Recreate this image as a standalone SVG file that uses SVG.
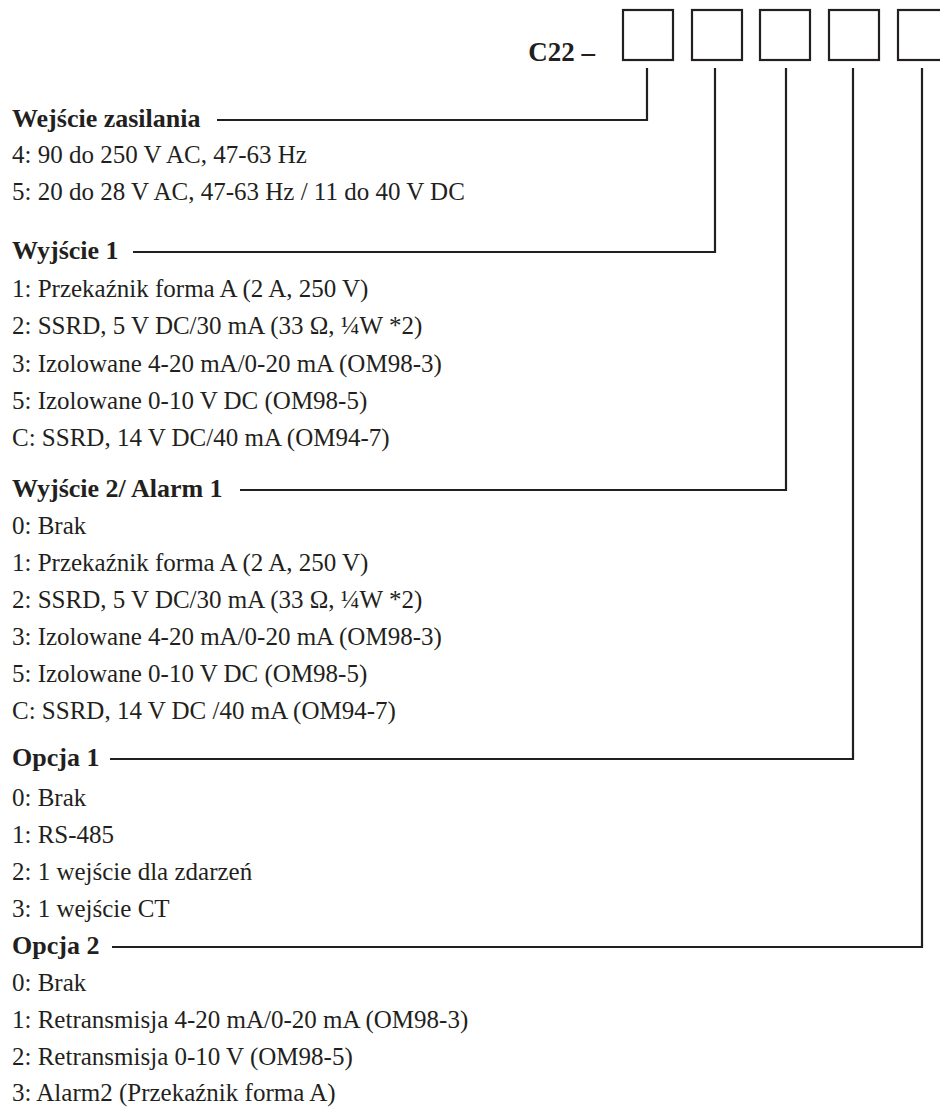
<svg xmlns="http://www.w3.org/2000/svg" width="940" height="1115" viewBox="0 0 940 1115">
<style>
text{font-family:"Liberation Serif","Times New Roman",serif;fill:#231f20}
.h{font-weight:bold;font-size:26px}
.c{font-weight:bold;font-size:27px}
.i{font-size:25px}
.box{fill:none;stroke:#231f20;stroke-width:2.2}
.ln{fill:none;stroke:#231f20;stroke-width:2.2}
</style>
<rect width="940" height="1115" fill="#fff"/>
<g id="code">
<text class="c" x="595" y="61" text-anchor="end">C22 –</text>
<rect class="box" x="623" y="10" width="50" height="50"/>
<rect class="box" x="692" y="10" width="50" height="50"/>
<rect class="box" x="760" y="10" width="50" height="50"/>
<rect class="box" x="829" y="10" width="50" height="50"/>
<rect class="box" x="898" y="10" width="50" height="50"/>
</g>
<g id="connectors">
<polyline class="ln" points="647,68 647,120 217,120"/>
<polyline class="ln" points="715,68 715,252 133,252"/>
<polyline class="ln" points="786,68 786,490 240,490"/>
<polyline class="ln" points="853,68 853,759 110,759"/>
<polyline class="ln" points="922,68 922,947 112,947"/>
</g>
<g id="wejscie-zasilania">
<text class="h" x="12" y="127">Wejście zasilania</text>
<text class="i" x="12" y="163">4: 90 do 250 V AC, 47-63 Hz</text>
<text class="i" x="12" y="200">5: 20 do 28 V AC, 47-63 Hz / 11 do 40 V DC</text>
</g>
<g id="wyjscie-1">
<text class="h" x="12" y="259">Wyjście 1</text>
<text class="i" x="12" y="297">1: Przekaźnik forma A (2 A, 250 V)</text>
<text class="i" x="12" y="334">2: SSRD, 5 V DC/30 mA (33 Ω, ¼W *2)</text>
<text class="i" x="12" y="372">3: Izolowane 4-20 mA/0-20 mA (OM98-3)</text>
<text class="i" x="12" y="409">5: Izolowane 0-10 V DC (OM98-5)</text>
<text class="i" x="12" y="446">C: SSRD, 14 V DC/40 mA (OM94-7)</text>
</g>
<g id="wyjscie-2">
<text class="h" x="12" y="497">Wyjście 2/ Alarm 1</text>
<text class="i" x="12" y="534">0: Brak</text>
<text class="i" x="12" y="571">1: Przekaźnik forma A (2 A, 250 V)</text>
<text class="i" x="12" y="608">2: SSRD, 5 V DC/30 mA (33 Ω, ¼W *2)</text>
<text class="i" x="12" y="645">3: Izolowane 4-20 mA/0-20 mA (OM98-3)</text>
<text class="i" x="12" y="682">5: Izolowane 0-10 V DC (OM98-5)</text>
<text class="i" x="12" y="719">C: SSRD, 14 V DC /40 mA (OM94-7)</text>
</g>
<g id="opcja-1">
<text class="h" x="12" y="766">Opcja 1</text>
<text class="i" x="12" y="806">0: Brak</text>
<text class="i" x="12" y="843">1: RS-485</text>
<text class="i" x="12" y="880">2: 1 wejście dla zdarzeń</text>
<text class="i" x="12" y="917">3: 1 wejście CT</text>
</g>
<g id="opcja-2">
<text class="h" x="12" y="954">Opcja 2</text>
<text class="i" x="12" y="991">0: Brak</text>
<text class="i" x="12" y="1028">1: Retransmisja 4-20 mA/0-20 mA (OM98-3)</text>
<text class="i" x="12" y="1065">2: Retransmisja 0-10 V (OM98-5)</text>
<text class="i" x="12" y="1101">3: Alarm2 (Przekaźnik forma A)</text>
</g>
</svg>
